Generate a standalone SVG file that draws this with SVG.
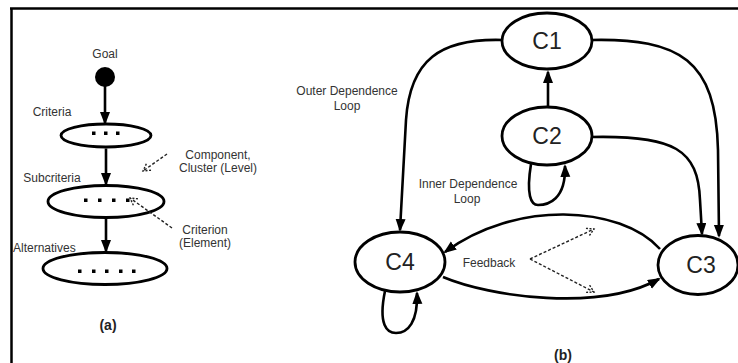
<svg xmlns="http://www.w3.org/2000/svg" width="738" height="363" viewBox="0 0 738 363">
<defs>
<style>
.frame{stroke:#000;stroke-width:2.5;fill:none}
.node{fill:#fff;stroke:#000;stroke-width:2.8}
.edge{fill:none;stroke:#000;stroke-width:2.6}
.dash{fill:none;stroke:#222;stroke-width:1.4;stroke-dasharray:3 2}
.lbl{font-family:"Liberation Sans",Arial,sans-serif;font-size:12px;fill:#333}
.big{font-family:"Liberation Sans",Arial,sans-serif;font-size:23px;fill:#222}
.cap{font-family:"Liberation Sans",Arial,sans-serif;font-size:14px;font-weight:bold;fill:#222}
.dot{fill:#000}
</style>
<marker id="ah" markerUnits="userSpaceOnUse" markerWidth="14" markerHeight="12" refX="11" refY="5" orient="auto">
<path d="M0,0 L13,5 L0,10 z" fill="#000"/>
</marker>
<marker id="oh" markerUnits="userSpaceOnUse" markerWidth="12" markerHeight="12" refX="8" refY="5" orient="auto">
<path d="M1,1 L8,5 L1,9" fill="none" stroke="#222" stroke-width="1.4" stroke-dasharray="2 1.5"/>
</marker>
</defs>
<rect width="738" height="363" fill="#fff"/>
<g id="frame">
<line class="frame" x1="10" y1="8.5" x2="738" y2="8.5"/>
<line class="frame" x1="11.5" y1="8" x2="11.5" y2="363"/>
</g>
<g id="goal">
<text class="lbl" x="105" y="58" text-anchor="middle">Goal</text>
<circle cx="105" cy="77" r="10" fill="#000"/>
</g>
<g id="criteria">
<text class="lbl" x="52" y="116" text-anchor="middle">Criteria</text>
<ellipse class="node" cx="106" cy="135.5" rx="45" ry="11.5"/>
<rect class="dot" x="92" y="131.5" width="3.5" height="3.5"/>
<rect class="dot" x="104" y="131.5" width="3.5" height="3.5"/>
<rect class="dot" x="116" y="131.5" width="3.5" height="3.5"/>
</g>
<g id="subcriteria">
<text class="lbl" x="52" y="182" text-anchor="middle">Subcriteria</text>
<ellipse class="node" cx="106" cy="201.5" rx="58" ry="16"/>
<rect class="dot" x="84" y="198.5" width="3.5" height="3.5"/>
<rect class="dot" x="98" y="198.5" width="3.5" height="3.5"/>
<rect class="dot" x="112" y="198.5" width="3.5" height="3.5"/>
<rect class="dot" x="126" y="198.5" width="3.5" height="3.5"/>
</g>
<g id="alternatives">
<text class="lbl" x="13" y="252">Alternatives</text>
<ellipse class="node" cx="105" cy="268.5" rx="62" ry="16"/>
<rect class="dot" x="78" y="269.5" width="3.5" height="3.5"/>
<rect class="dot" x="92" y="269.5" width="3.5" height="3.5"/>
<rect class="dot" x="105" y="269.5" width="3.5" height="3.5"/>
<rect class="dot" x="119" y="269.5" width="3.5" height="3.5"/>
<rect class="dot" x="132" y="269.5" width="3.5" height="3.5"/>
</g>
<g id="labels-a">
<text class="lbl" x="218" y="159" text-anchor="middle">Component,</text>
<text class="lbl" x="218" y="172" text-anchor="middle">Cluster (Level)</text>
<text class="lbl" x="205" y="234" text-anchor="middle">Criterion</text>
<text class="lbl" x="205" y="247" text-anchor="middle">(Element)</text>
<text class="cap" x="108" y="330" text-anchor="middle">(a)</text>
</g>
<g id="C1">
<ellipse class="node" cx="547" cy="41" rx="45" ry="28"/>
<text class="big" x="547" y="49" text-anchor="middle">C1</text>
</g>
<g id="C2">
<ellipse class="node" cx="547" cy="136" rx="45" ry="29"/>
<text class="big" x="547" y="144" text-anchor="middle">C2</text>
</g>
<g id="C4">
<ellipse class="node" cx="400" cy="262" rx="45" ry="30"/>
<text class="big" x="400" y="270" text-anchor="middle">C4</text>
</g>
<g id="C3">
<ellipse class="node" cx="698" cy="265" rx="40" ry="29.5"/>
<text class="big" x="701" y="273" text-anchor="middle">C3</text>
</g>
<g id="labels-b">
<text class="lbl" x="347" y="95" text-anchor="middle">Outer Dependence</text>
<text class="lbl" x="347" y="110" text-anchor="middle">Loop</text>
<text class="lbl" x="468" y="188" text-anchor="middle">Inner Dependence</text>
<text class="lbl" x="467" y="203" text-anchor="middle">Loop</text>
<text class="lbl" x="489" y="267" text-anchor="middle">Feedback</text>
<text class="cap" x="563" y="360" text-anchor="middle">(b)</text>
</g>
<g id="connectors">
<line class="edge" x1="105" y1="86" x2="105" y2="123" marker-end="url(#ah)"/>
<line class="edge" x1="106" y1="148.5" x2="106" y2="184" marker-end="url(#ah)"/>
<line class="edge" x1="106" y1="219" x2="106" y2="251" marker-end="url(#ah)"/>
<path class="dash" d="M167,154 L143,171" marker-end="url(#oh)"/>
<path class="dash" d="M172,228 L130,198" marker-end="url(#oh)"/>
<line class="edge" x1="548" y1="106" x2="548" y2="72" marker-end="url(#ah)"/>
<path class="edge" d="M503,40 C440,38 410,60 406,120 L400,230" marker-end="url(#ah)"/>
<path class="edge" d="M591,40 C680,38 716,60 718,150 L719,236" marker-end="url(#ah)"/>
<path class="edge" d="M591,137 C675,135 698,150 700,200 L702,234" marker-end="url(#ah)"/>
<path class="edge" d="M531,164 C526,195 531,205 538,205 C548,205 566,200 565,166" marker-end="url(#ah)"/>
<path class="edge" d="M385,291 C378,325 387,333 396,333 C408,333 418,322 417,293" marker-end="url(#ah)"/>
<path class="edge" d="M660,249 C620,205 515,200 445,252" marker-end="url(#ah)"/>
<path class="edge" d="M443,277 C490,297 600,312 659,279" marker-end="url(#ah)"/>
<path class="dash" d="M530,259 L594,229" marker-end="url(#oh)"/>
<path class="dash" d="M530,259 L594,292" marker-end="url(#oh)"/>
</g>
</svg>
